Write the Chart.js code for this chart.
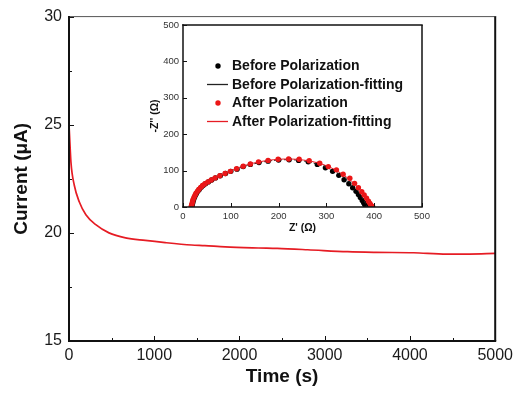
<!DOCTYPE html>
<html><head><meta charset="utf-8">
<script src="https://cdn.jsdelivr.net/npm/chart.js@4.4.0/dist/chart.umd.min.js"></script>
<style>
html,body{margin:0;padding:0;background:#fff;}
#wrap{position:relative;width:518px;height:394px;overflow:hidden;}
#main{position:absolute;left:0;top:0;}
#inset{position:absolute;left:140px;top:15px;}
</style></head><body>
<div id="wrap"><canvas id="main" width="518" height="394"></canvas><canvas id="inset" width="300" height="225"></canvas></div>
<script>
// ---- main chart data ----
const timeS = [0, 4, 23, 62, 120, 198, 314, 469, 663, 895, 1128, 1438, 1593, 1833, 2221, 2442, 2800, 3267, 3600, 4043, 4430, 4700, 5000];
const currentUA = [25.0, 24.7, 23.26, 22.2, 21.44, 20.84, 20.38, 20.0, 19.77, 19.65, 19.55, 19.44, 19.41, 19.35, 19.3, 19.28, 19.22, 19.13, 19.1, 19.08, 19.02, 19.02, 19.05];
const mainXTicks = [0, 1000, 2000, 3000, 4000, 5000];
const mainXMinor = [500, 1500, 2500, 3500, 4500];
const mainYTicks = [15, 20, 25, 30];
const mainYMinor = [17.5, 22.5, 27.5];

// ---- inset (Nyquist) data ----
const beforeZre = [18,19,20,21,22,24,26,28,31,34,38,42,47,53,60,68,78,89,100,113,126,141,159,178,200,222,242,262,281,298,313,326,337,347,355,362,367,371,375,378,380,382,384];
const beforeZim = [0,5,10,15,20,26,32,37,43,48,54,59,64,69,74,80,86,92,98,104,111,117,122,126,129,130,128,124,117,108,98,87,75,64,53,43,34,26,18,12,7,3,0];
const afterZre = [17,18,19,20,21,23,25,27,30,33,37,41,46,52,59,67,77,88,99,112,126,141,158,178,199,221,243,264,286,304,321,335,349,359,367,374,379,384,388,391,393,395,397];
const afterZim = [0,5,10,15,20,26,32,37,43,48,54,59,64,69,74,80,86,92,98,105,112,118,124,128,131,132,131,127,120,111,102,90,79,65,53,42,33,24,16,10,5,2,0];
const beforeFitZre = [18,20,24,30,40,55,75,100,130,160,190,220,250,280,305,325,342,355,365,373,379,383,385];
const beforeFitZim = [0,10,22,36,52,68,83,98,112,122,128,130,127,118,106,92,76,60,45,30,17,7,0];
const afterFitZre = [17,19,23,29,39,54,74,99,129,159,190,221,252,283,308,329,346,360,371,380,387,392,396];
const afterFitZim = [0,10,22,36,52,68,84,99,114,124,130,132,129,121,109,94,78,62,46,31,18,8,0];
const insetTicks = [0, 100, 200, 300, 400, 500];
const legendLabels = ['Before Polarization', 'Before Polarization-fitting', 'After Polarization', 'After Polarization-fitting'];

const FONT = "'Liberation Sans', Arial, sans-serif";
const RED = 'rgb(230,28,36)';
const pts = (xs, ys) => xs.map((v, i) => ({x: v, y: ys[i]}));

const framePlugin = {
  id: 'frame',
  afterDatasetsDraw(chart, args, o) {
    const {ctx, chartArea: {left, right, top, bottom}, scales: {x, y}} = chart;
    ctx.save();
    ctx.strokeStyle = '#111';
    ctx.lineWidth = o.tickWidth;
    const tx = (v, len) => { const p = Math.round(x.getPixelForValue(v)) + 0.5; ctx.beginPath(); ctx.moveTo(p, bottom); ctx.lineTo(p, bottom - len); ctx.stroke(); };
    const ty = (v, len) => { const p = Math.round(y.getPixelForValue(v)) + 0.5; ctx.beginPath(); ctx.moveTo(left, p); ctx.lineTo(left + len, p); ctx.stroke(); };
    o.xMajor.forEach(v => tx(v, o.majorLen));
    o.xMinor.forEach(v => tx(v, o.minorLen));
    o.yMajor.forEach(v => ty(v, o.majorLen));
    o.yMinor.forEach(v => ty(v, o.minorLen));
    const line = (x1, y1, x2, y2, c, w) => { ctx.strokeStyle = c; ctx.lineWidth = w; ctx.beginPath(); ctx.moveTo(x1, y1); ctx.lineTo(x2, y2); ctx.stroke(); };
    const b = o.borders;
    line(left - b.left / 2, top, right + b.right / 2, top, b.topColor, b.top);
    line(right, top, right, bottom, b.rightColor, b.right);
    line(left, top - b.top / 2, left, bottom + b.bottom / 2, '#111', b.left);
    line(left - b.left / 2, bottom, right + b.right / 2, bottom, '#111', b.bottom);
    ctx.restore();
  }
};

const legendPlugin = {
  id: 'insetLegend',
  afterDraw(chart, args, o) {
    if (!o.items) return;
    const ctx = chart.ctx;
    ctx.save();
    ctx.font = o.font;
    ctx.textBaseline = 'middle';
    ctx.textAlign = 'left';
    o.items.forEach((it, i) => {
      const yy = o.y0 + i * o.dy;
      if (it.type === 'dot') {
        ctx.fillStyle = it.color;
        ctx.beginPath(); ctx.arc(o.dotX, yy, 2.7, 0, Math.PI * 2); ctx.fill();
      } else {
        ctx.strokeStyle = it.color; ctx.lineWidth = 1.3;
        ctx.beginPath(); ctx.moveTo(o.lineX1, yy); ctx.lineTo(o.lineX2, yy); ctx.stroke();
      }
      ctx.fillStyle = '#111';
      ctx.fillText(it.label, o.textX, yy + 0.5);
    });
    ctx.restore();
  }
};

const plain = v => String(v);

// ---- main chart ----
new Chart(document.getElementById('main'), {
  type: 'line',
  data: { datasets: [{
    data: pts(timeS, currentUA),
    borderColor: RED, borderWidth: 1.7, pointRadius: 0,
    cubicInterpolationMode: 'monotone', fill: false
  }]},
  options: {
    responsive: false, animation: false, devicePixelRatio: 1,
    layout: { padding: { top: 13, right: 19, left: 0, bottom: 0 } },
    plugins: {
      legend: { display: false }, tooltip: { enabled: false },
      frame: { xMajor: mainXTicks, xMinor: mainXMinor, yMajor: mainYTicks, yMinor: mainYMinor,
        majorLen: 5, minorLen: 3, tickWidth: 1,
        borders: { top: 1, topColor: '#555', right: 2, rightColor: '#111', left: 2, bottom: 2 } }
    },
    scales: {
      x: {
        type: 'linear', min: 0, max: 5000,
        afterBuildTicks: s => { s.ticks = mainXTicks.map(v => ({value: v})); },
        afterFit: s => { s.height = 53; },
        grid: { display: false, drawTicks: false }, border: { display: false },
        ticks: { color: '#1a1a1a', font: { family: FONT, size: 16 }, padding: 5, maxRotation: 0, autoSkip: false, callback: plain },
        title: { display: true, text: 'Time (s)', color: '#111', font: { family: FONT, size: 19, weight: 'bold', lineHeight: 1.2 }, padding: { top: 0, bottom: 5.6 } }
      },
      y: {
        type: 'linear', min: 15, max: 30,
        afterBuildTicks: s => { s.ticks = mainYTicks.map(v => ({value: v})); },
        afterFit: s => { s.width = 69; },
        grid: { display: false, drawTicks: false }, border: { display: false },
        ticks: { color: '#1a1a1a', font: { family: FONT, size: 16 }, padding: 7, autoSkip: false, callback: plain },
        title: { display: true, text: 'Current (μA)', color: '#111', font: { family: FONT, size: 19, weight: 'bold', lineHeight: 1.2 }, padding: { top: 10.6, bottom: 0 } }
      }
    }
  },
  plugins: [framePlugin]
});

// ---- inset chart ----
new Chart(document.getElementById('inset'), {
  type: 'scatter',
  data: { datasets: [
    { data: pts(beforeZre, beforeZim), backgroundColor: '#000', borderColor: '#000', pointRadius: 2.7, borderWidth: 0, showLine: false, order: 4 },
    { data: pts(beforeFitZre, beforeFitZim), borderColor: '#222', borderWidth: 1, pointRadius: 0, showLine: true, borderDash: [3, 2], cubicInterpolationMode: 'monotone', order: 3 },
    { data: pts(afterZre, afterZim), backgroundColor: 'rgb(236,22,22)', borderColor: 'rgb(236,22,22)', pointRadius: 2.7, borderWidth: 0, showLine: false, order: 2 },
    { data: pts(afterFitZre, afterFitZim), borderColor: RED, borderWidth: 1, pointRadius: 0, showLine: true, cubicInterpolationMode: 'monotone', order: 1 }
  ]},
  options: {
    responsive: false, animation: false, devicePixelRatio: 1,
    layout: { padding: { top: 10, right: 18, left: 0, bottom: 0 } },
    plugins: {
      legend: { display: false }, tooltip: { enabled: false },
      frame: { xMajor: insetTicks, xMinor: [], yMajor: insetTicks, yMinor: [],
        majorLen: 4, minorLen: 2, tickWidth: 1,
        borders: { top: 1.5, topColor: '#111', right: 1.5, rightColor: '#111', left: 1.5, bottom: 1.5 } },
      insetLegend: {
        font: "bold 14px " + FONT, y0: 51, dy: 18.5, dotX: 78, lineX1: 67, lineX2: 88, textX: 92,
        items: [
          { type: 'dot', color: '#000', label: legendLabels[0] },
          { type: 'line', color: '#222', label: legendLabels[1] },
          { type: 'dot', color: 'rgb(236,22,22)', label: legendLabels[2] },
          { type: 'line', color: RED, label: legendLabels[3] }
        ]
      }
    },
    scales: {
      x: {
        type: 'linear', min: 0, max: 500,
        afterBuildTicks: s => { s.ticks = insetTicks.map(v => ({value: v})); },
        afterFit: s => { s.height = 33; },
        grid: { display: false, drawTicks: false }, border: { display: false },
        ticks: { color: '#333', font: { family: FONT, size: 9.5 }, padding: 4, maxRotation: 0, autoSkip: false, callback: plain },
        title: { display: true, text: "Z' (Ω)", color: '#111', font: { family: FONT, size: 10.5, weight: 'bold', lineHeight: 1.2 }, padding: { top: 0, bottom: 6 } }
      },
      y: {
        type: 'linear', min: 0, max: 500,
        afterBuildTicks: s => { s.ticks = insetTicks.map(v => ({value: v})); },
        afterFit: s => { s.width = 43; },
        grid: { display: false, drawTicks: false }, border: { display: false },
        ticks: { color: '#333', font: { family: FONT, size: 9.5 }, padding: 4, autoSkip: false, callback: plain },
        title: { display: true, text: "-Z'' (Ω)", color: '#111', font: { family: FONT, size: 10.5, weight: 'bold', lineHeight: 1.2 }, padding: { top: 8.7, bottom: 0 } }
      }
    }
  },
  plugins: [framePlugin, legendPlugin]
});
</script>
</body></html>
